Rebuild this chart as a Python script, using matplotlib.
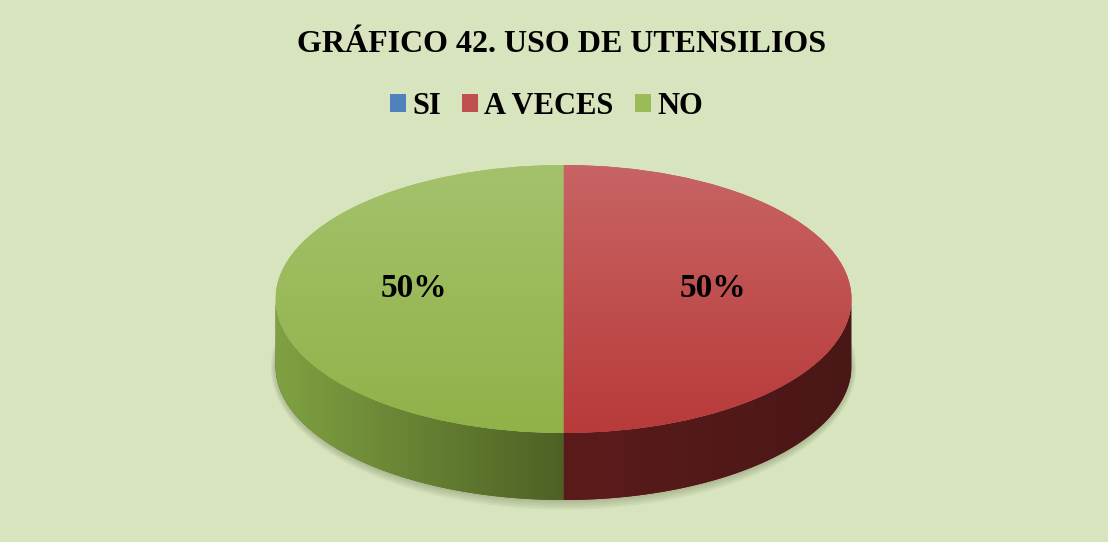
import numpy as np
import matplotlib
matplotlib.use('Agg')
import matplotlib.pyplot as plt
from matplotlib.patches import Patch, Polygon, Ellipse
from matplotlib.colors import LinearSegmentedColormap

categorias = ['SI', 'A VECES', 'NO']
valores = [0, 50, 50]
colores = ['#4f81bd', '#c0504d', '#9bbb59']
# top gradient (upper colour, lower colour) and side gradient (left, right)
arriba = {'SI': ('#5a8fcc', '#4577b5'), 'A VECES': ('#c86464', '#b83a3a'), 'NO': ('#a4c26c', '#90b248')}
lado = {'SI': ('#3a5f8c', '#2c4a70'), 'A VECES': ('#5c1b1b', '#4a1717'), 'NO': ('#80a142', '#4d6124')}

fondo = '#d8e4bd'
W, H = 1108, 542
cx, cy = 563.5, 299     # centre of top ellipse in pixels (from top)
a, b = 288, 134         # semi axes in pixels
prof = 0.5              # depth in radius units (vertical)

fig = plt.figure(figsize=(W / 100, H / 100), dpi=100, facecolor=fondo)
ax = fig.add_axes([0, 0, 1, 1])
ax.set_facecolor(fondo)

wedges, textos, autotextos = ax.pie(
    valores, colors=colores, startangle=90, counterclock=False,
    autopct=lambda p: f'{p:.0f}%' if p > 0 else '', pctdistance=0.52,
    textprops=dict(family='Liberation Serif', weight='bold', fontsize=24, color='black'))

ax.set_aspect('auto')
ax.axis('off')

# soft shadow under the pie
for k in range(5):
    sh = Ellipse((0, -prof - 0.012), 2 * (1.0 + 0.004 * k), 2 * (1.0 + 0.015 * k),
                 facecolor='#3d4a25', edgecolor='none', alpha=0.06, zorder=0)
    ax.add_patch(sh)

# sides
for w, cat in zip(wedges, categorias):
    t1, t2 = w.theta1, w.theta2
    if t2 - t1 <= 0:
        continue
    th = np.radians(np.linspace(t1, t2, 400))
    th = th[np.sin(th) <= 1e-9]
    if len(th) < 2:
        continue
    xs = np.cos(th)
    ys = np.sin(th)
    pts = np.vstack([np.column_stack([xs, ys]), np.column_stack([xs[::-1], ys[::-1] - prof])])
    poly = Polygon(pts, closed=True, facecolor=lado[cat][1], edgecolor='none', zorder=1)
    ax.add_patch(poly)
    cmap = LinearSegmentedColormap.from_list('s' + cat, lado[cat])
    grad = np.linspace(0, 1, 256).reshape(1, -1)
    im = ax.imshow(grad, cmap=cmap, aspect='auto', interpolation='bilinear',
                   extent=(xs.min(), xs.max(), -1 - prof, 0.05), zorder=1.5)
    im.set_clip_path(poly)

# tops with vertical gradient
for w, cat in zip(wedges, categorias):
    w.set_zorder(2)
    w.set_edgecolor('none')
    if w.theta2 - w.theta1 <= 0:
        continue
    cmap = LinearSegmentedColormap.from_list('t' + cat, [arriba[cat][1], arriba[cat][0]])
    grad = np.linspace(0, 1, 256).reshape(-1, 1)
    im = ax.imshow(grad, cmap=cmap, aspect='auto', interpolation='bilinear', origin='lower',
                   extent=(-1, 1, -1, 1), zorder=2.5)
    im.set_clip_path(w)

ax.set_xlim(-cx / a, (W - cx) / a)
ax.set_ylim(-(H - cy) / b, cy / b)

for t in autotextos:
    x, y = t.get_position()
    t.set_position((x, y + 0.075))
    t.set_zorder(5)

fig.text(562 / W, 1 - 45 / H, 'GRÁFICO 42. USO DE UTENSILIOS', ha='center', va='center',
         family='Liberation Serif', weight='bold', fontsize=23)

handles = [Patch(facecolor=c, edgecolor='none') for c in colores]
fig.legend(handles, categorias, loc='center', bbox_to_anchor=(546.5 / W, 1 - 106 / H), ncol=3,
           frameon=False, prop=dict(family='Liberation Serif', weight='bold', size=22),
           handlelength=0.52, handleheight=0.52, handletextpad=0.2, columnspacing=0.7)

fig.savefig('out.png', dpi=100, facecolor=fondo)
